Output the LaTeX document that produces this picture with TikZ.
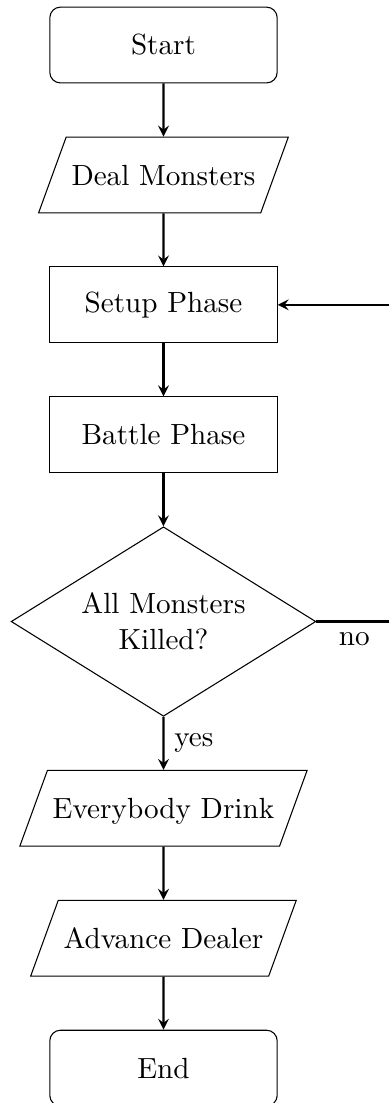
\documentclass[tikz,border=0pt,11pt]{standalone}
\usetikzlibrary{shapes.geometric, positioning}
\usetikzlibrary{arrows}

\begin{document}
\begin{tikzpicture}[node distance=0.7cm,
  terminal/.style={rectangle, rounded corners, draw=black, minimum width=3cm, minimum height=1cm, text centered},
  iobox/.style={trapezium, trapezium left angle=70, trapezium right angle=110, draw=black, text height=9pt, text depth=1pt, inner xsep=2pt, inner ysep=9.22pt, text centered},
  procbox/.style={rectangle, draw=black, minimum width=3cm, minimum height=1cm, text centered},
  decbox/.style={diamond, aspect=1.6, draw=black, minimum width=4.02cm, minimum height=2.5cm, inner sep=0pt, text width=2.3cm, align=center},
  flow/.style={thick, ->, >=stealth}]
\def\xmin{-2.157}
\def\xmax{2.962}
\def\ymin{-13.958}
\def\ymax{0.594}
\useasboundingbox (\xmin,\ymin) rectangle (\xmax,\ymax);

\node (start) [terminal] at (0,0) {Start};
\node (deal) [iobox, below=of start] {Deal Monsters};
\node (setup) [procbox, below=of deal] {Setup Phase};
\node (battle) [procbox, below=of setup] {Battle Phase};
\node (check) [decbox, below=of battle] {All Monsters Killed?};
\node (drink) [iobox, below=of check] {Everybody Drink};
\node (advance) [iobox, below=of drink] {Advance Dealer};
\node (stop) [terminal, below=of advance] {End};

\draw [flow] (start) -- (deal);
\draw [flow] (deal) -- (setup);
\draw [flow] (setup) -- (battle);
\draw [flow] (battle) -- (check);
\draw [flow] (check) -- node[right] {yes} (drink);
\draw [flow] (drink) -- (advance);
\draw [flow] (advance) -- (stop);
% loop back when monsters are left
\draw [flow] (check.east) -- node[below] {no} ++(1,0) |- (setup.east);
\end{tikzpicture}
\end{document}
